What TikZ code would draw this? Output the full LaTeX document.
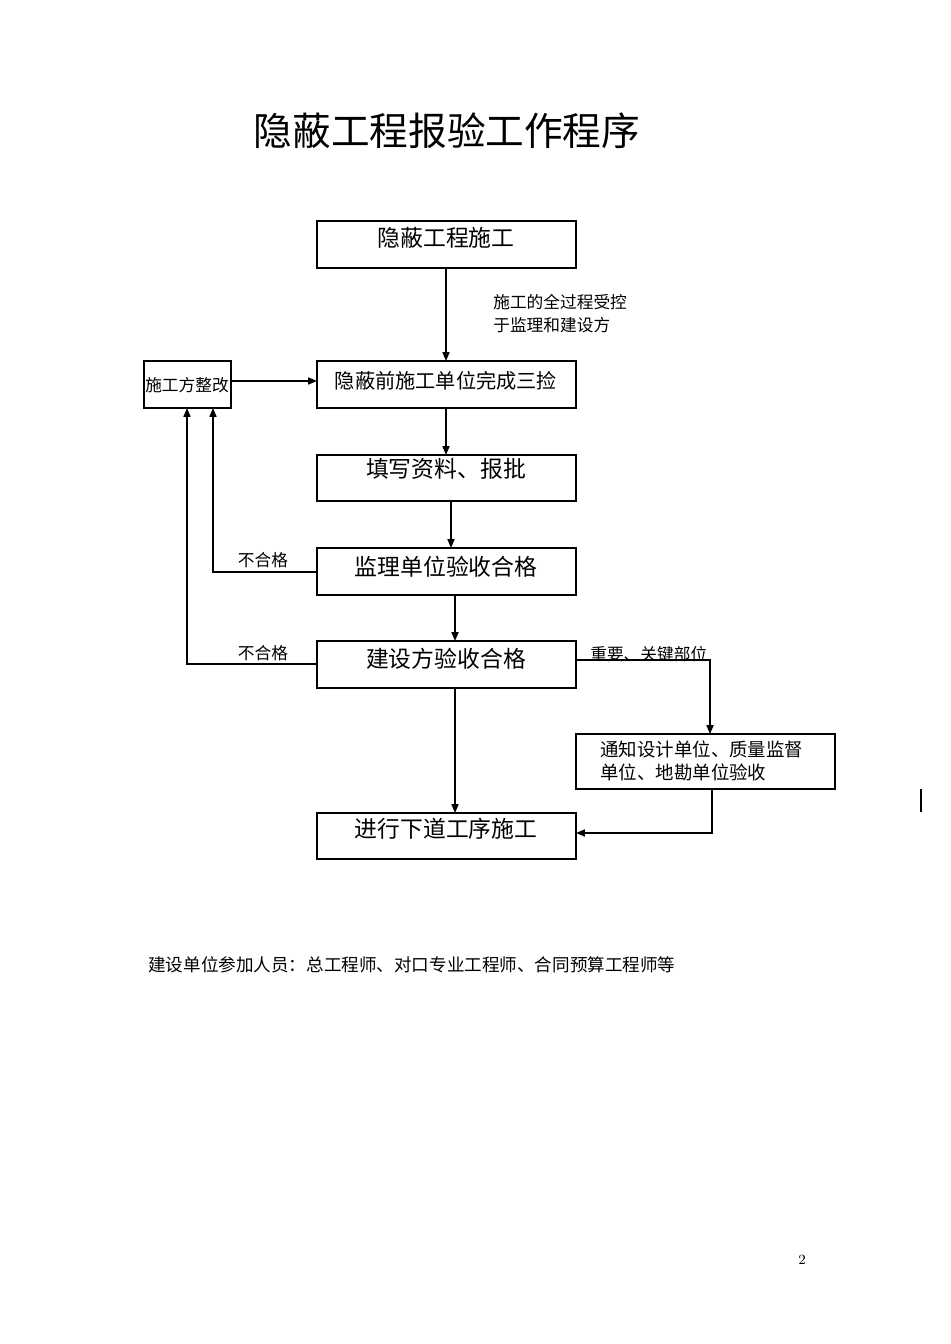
\documentclass[tikz,border=0pt]{standalone}
\usepackage{fontspec}
\newfontfamily\cjk{Noto Sans CJK SC}
\usetikzlibrary{arrows.meta}
\begin{document}
\begin{tikzpicture}[x=0.02cm,y=-0.02cm,
  box/.style={draw,line width=0.9pt},
  btxt/.style={font=\cjk\fontsize{13}{15}\selectfont,inner sep=0pt},
  stxt/.style={font=\cjk\fontsize{9.5}{13}\selectfont,inner sep=0pt,align=left},
  arr/.style={-{Triangle[length=5pt,width=4pt]},line width=0.8pt},
  ln/.style={line width=0.8pt}]
\useasboundingbox[fill=white] (0,0) rectangle (950,1344);
\node[font=\cjk\fontsize{22}{26}\selectfont,inner sep=0pt] (title) at (447,131) {隐蔽工程报验工作程序};
\draw[box] (317,221) rectangle (576,268); \node[btxt] (A) at (446,238) {隐蔽工程施工};
\coordinate (At) at (446,268);
\draw[box] (317,361) rectangle (576,408); \node[btxt,font=\cjk\fontsize{11.5}{14}\selectfont] (B) at (446,381) {隐蔽前施工单位完成三捡};
\draw[box] (317,455) rectangle (576,501); \node[btxt] (C) at (446,469) {填写资料、报批};
\draw[box] (317,548) rectangle (576,595); \node[btxt] (D) at (446,567) {监理单位验收合格};
\draw[box] (317,641) rectangle (576,688); \node[btxt] (E) at (446,659) {建设方验收合格};
\draw[box] (576,734) rectangle (835,789);
\node[stxt,font=\cjk\fontsize{10.5}{13.5}\selectfont,anchor=west] (F) at (600,761) {通知设计单位、质量监督\\单位、地勘单位验收};
\draw[box] (317,813) rectangle (576,859); \node[btxt] (G) at (446,829) {进行下道工序施工};
\draw[box] (144,361) rectangle (231,408); \node[stxt] (H) at (187,385) {施工方整改};
\node[stxt,anchor=west] (L1) at (493,314) {施工的全过程受控\\于监理和建设方};
\draw[arr] (446,268) -- (446,361);
\draw[arr] (446,408) -- (446,455);
\draw[arr] (451,501) -- (451,548);
\draw[arr] (455,595) -- (455,641);
\draw[arr] (455,688) -- (455,813);
\draw[arr] (231,381) -- (317,381);
\draw[arr] (576,660) -- (710,660) -- (710,734);
\node[stxt,anchor=west] (L2) at (590,654) {重要、关键部位};
\draw[arr] (712,789) -- (712,833) -- (576,833);
\draw[arr] (317,572) -- (213,572) -- (213,408);
\node[stxt] (L3) at (263,560) {不合格};
\draw[arr] (317,664) -- (187,664) -- (187,408);
\node[stxt] (L4) at (263,653) {不合格};
\draw[line width=1pt] (921,789) -- (921,812);
\node[stxt,anchor=west,font=\cjk\fontsize{10}{12}\selectfont] (foot) at (148,965) {建设单位参加人员：总工程师、对口专业工程师、合同预算工程师等};
\node[font=\fontsize{8}{10}\selectfont,inner sep=0pt] (pg) at (802,1260) {2};
\end{tikzpicture}
\end{document}
